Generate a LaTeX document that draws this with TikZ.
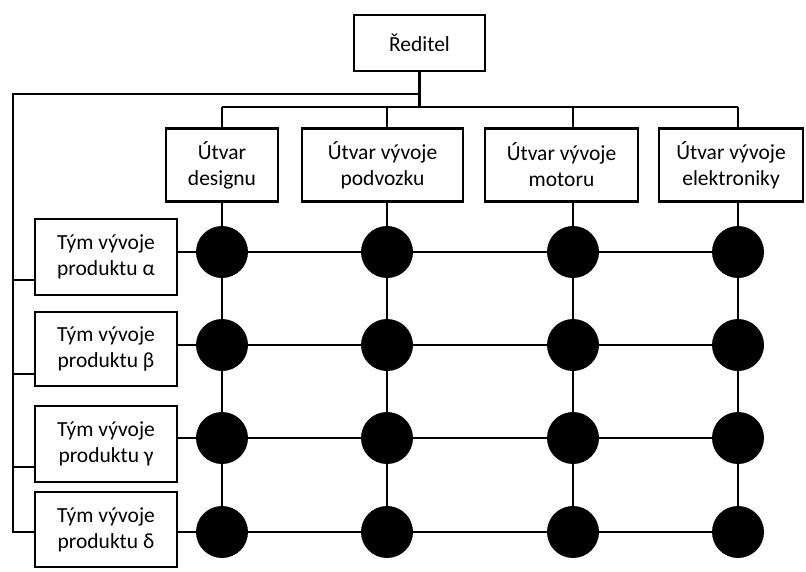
\documentclass[tikz,border=0pt]{standalone}
\usepackage{fontspec}
\setmainfont{Carlito}
\begin{document}
\begin{tikzpicture}[x=1pt,y=-1pt,
  box/.style={draw, line width=2.5pt, align=center, inner sep=0pt,
    font=\fontsize{21.5}{26}\selectfont},
  dot/.style={circle, fill=black, minimum size=52pt, inner sep=0pt},
  wire/.style={line width=2.3pt}]
\useasboundingbox (0,0) rectangle (806,571);

% director
\node[box, minimum width=131pt, minimum height=56pt] (dir) at (419.5,43) {Ředitel};

% functional departments
\node[box, minimum width=112pt, minimum height=73pt] (d1) at (222,165) {Útvar\\designu};
\node[box, minimum width=161pt, minimum height=73pt] (d2) at (382.5,165) {Útvar vývoje\\podvozku};
\node[box, minimum width=153pt, minimum height=73pt] (d3) at (561.5,165) {Útvar vývoje\\motoru};
\node[box, minimum width=144pt, minimum height=73pt] (d4) at (731,165) {Útvar vývoje\\elektroniky};

% product teams
\node[box, minimum width=142pt, minimum height=76pt] (t1) at (106,257) {Tým vývoje\\produktu α};
\node[box, minimum width=142pt, minimum height=74pt] (t2) at (106,349) {Tým vývoje\\produktu β};
\node[box, minimum width=142pt, minimum height=76pt] (t3) at (106,444) {Tým vývoje\\produktu γ};
\node[box, minimum width=142pt, minimum height=75pt] (t4) at (106,529.5) {Tým vývoje\\produktu δ};

% matrix intersections
\foreach \c/\x in {1/222,2/387,3/573,4/738}
  \foreach \r/\y in {1/252,2/345,3/438,4/532}
    \node[dot] (m\c\r) at (\x,\y) {};

% bus lines
\coordinate (topL) at (13,94);
\coordinate (busL) at (222,107);
\coordinate (busR) at (738,107);
\coordinate (s1) at (13,280);
\coordinate (s2) at (13,374);
\coordinate (s3) at (13,467);
\coordinate (s4) at (13,532);

\draw[wire] (dir.south) -- (dir.south |- busL);
\draw[wire] (dir.south |- topL) -- (topL) -- (s4) -- (s4 -| t4.west);
\draw[wire] (s1) -- (s1 -| t1.west);
\draw[wire] (s2) -- (s2 -| t2.west);
\draw[wire] (s3) -- (s3 -| t3.west);
\draw[wire] (busL) -- (busR);

% departments down through their columns
\foreach \c/\d in {1/d1,2/d2,3/d3,4/d4} {
  \draw[wire] (m\c1 |- busL) -- (m\c1 |- \d.north);
  \draw[wire] (m\c1 |- \d.south) -- (m\c1) -- (m\c2) -- (m\c3) -- (m\c4);
}

% teams across their rows
\foreach \r/\t in {1/t1,2/t2,3/t3,4/t4}
  \draw[wire] (\t.east |- m1\r) -- (m1\r) -- (m2\r) -- (m3\r) -- (m4\r);
\end{tikzpicture}
\end{document}
